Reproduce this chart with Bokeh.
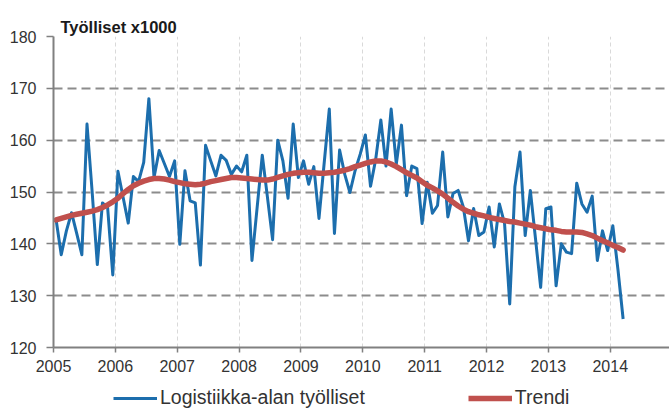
from bokeh.plotting import figure
from bokeh.models import Range1d, FixedTicker, Legend, LegendItem
from bokeh.layouts import column
from bokeh.embed import file_html
from bokeh.resources import INLINE
import pandas as pd

start_month = "2005-01"
employed = [
    144.7, 137.9, 142.5, 146.0, 142.0, 137.9, 163.1, 150.0, 136.0, 147.9, 147.0, 134.0,
    154.0, 149.0, 144.0, 153.0, 152.0, 155.7, 168.0, 152.8, 158.0, 155.5, 153.0, 156.0,
    139.9, 154.1, 148.3, 147.9, 135.9, 159.0, 156.0, 153.1, 157.1, 156.1, 153.4, 155.0,
    153.9, 157.1, 136.8, 147.0, 157.1, 149.0, 140.8, 160.0, 156.0, 148.8, 163.1, 152.8,
    156.0, 151.5, 154.9, 144.9, 155.5, 166.0, 142.0, 158.1, 153.4, 149.9, 154.1, 157.3,
    161.0, 151.1, 156.3, 163.9, 155.0, 166.0, 155.4, 162.9, 149.3, 155.0, 154.5, 143.9,
    151.9, 145.9, 147.4, 157.7, 145.2, 149.7, 150.3, 147.1, 140.6, 146.8, 141.6, 142.3,
    147.1, 139.4, 147.7, 143.9, 128.4, 151.0, 157.7, 141.6, 150.3, 141.0, 131.6, 146.8,
    147.1, 131.9, 140.0, 138.4, 138.1, 151.7, 147.7, 146.1, 149.2, 136.8, 142.5, 138.7,
    143.5, 135.0, 125.5,
]
trend = [
    144.6, 144.9, 145.2, 145.5, 145.7, 145.9, 146.1, 146.3, 146.6, 147.0, 147.5, 148.1,
    148.8, 149.7, 150.5, 151.2, 151.7, 152.1, 152.4, 152.6, 152.6, 152.5, 152.3, 152.0,
    151.8, 151.6, 151.5, 151.4, 151.5, 151.7, 152.0, 152.2, 152.4, 152.6, 152.8, 152.8,
    152.7, 152.6, 152.5, 152.4, 152.3, 152.3, 152.5, 152.8, 153.1, 153.4, 153.6, 153.7,
    153.8, 153.8, 153.7, 153.6, 153.6, 153.7, 153.8, 154.0, 154.2, 154.5, 154.9, 155.2,
    155.5, 155.8, 156.0, 156.0, 155.8, 155.4, 154.9, 154.3, 153.7, 153.2, 152.7, 152.0,
    151.3, 150.8, 150.2, 149.6, 148.8, 148.0, 147.3, 146.7, 146.2, 145.9, 145.6, 145.4,
    145.1, 144.9, 144.7, 144.5, 144.3, 144.2, 144.0, 143.8, 143.6, 143.3, 143.1, 142.9,
    142.7, 142.6, 142.4, 142.3, 142.3, 142.3, 142.2, 141.9, 141.6, 141.1, 140.6, 140.2,
    139.7, 139.3, 138.8,
]
year_ticks = [2005, 2006, 2007, 2008, 2009, 2010, 2011, 2012, 2013, 2014]
value_ticks = [120, 130, 140, 150, 160, 170, 180]
title_text = "Työlliset x1000"
series_names = ["Logistiikka-alan työlliset", "Trendi"]

months = pd.date_range(start_month, periods=len(employed), freq="MS")
x = [d.year + (d.month - 0.5) / 12 for d in months]

FONT = "Liberation Sans"
BLUE = "#1c6ead"
RED = "#c0504d"

p = figure(width=669, height=382, output_backend="svg", toolbar_location=None,
           x_range=Range1d(2005, 2014.958), y_range=Range1d(120, 180),
           min_border_left=53, min_border_right=0, min_border_top=36, min_border_bottom=35)
p.outline_line_color = None
p.background_fill_color = "white"
p.border_fill_color = "white"

p.title.text = title_text
p.title.align = "left"
p.title.offset = 7
p.title.standoff = 1
p.title.text_font = FONT
p.title.text_font_style = "bold"
p.title.text_font_size = "16.5px"
p.title.text_color = "#1a1a1a"

for ax in (p.xaxis, p.yaxis):
    ax.axis_line_color = "#808080"
    ax.axis_line_width = 2
    ax.major_tick_line_color = "#808080"
    ax.major_tick_line_width = 1.5
    ax.major_tick_in = 0
    ax.minor_tick_line_color = None
    ax.major_label_text_font = FONT
    ax.major_label_text_font_size = "16px"
    ax.major_label_text_color = "#333333"

p.xaxis.ticker = FixedTicker(ticks=year_ticks)
p.xaxis.major_tick_out = 5
p.xaxis.major_label_standoff = 7
p.yaxis.ticker = FixedTicker(ticks=value_ticks)
p.yaxis.major_tick_out = 7
p.yaxis.major_label_standoff = 10

p.ygrid.ticker = FixedTicker(ticks=value_ticks)
p.ygrid.grid_line_color = "#8c8c8c"
p.ygrid.grid_line_width = 2
p.ygrid.grid_line_dash = "9 5"
p.xgrid.ticker = FixedTicker(ticks=year_ticks)
p.xgrid.grid_line_color = "#d9d9d9"
p.xgrid.grid_line_width = 1
p.xgrid.grid_line_dash = "4 3"

p.line(x, employed, line_color=BLUE, line_width=3, line_join="round")
p.line(x, trend, line_color=RED, line_width=5.5, line_join="round", line_cap="round")

# legend strip below the chart (its proxy lines lie outside its own view)
q = figure(width=669, height=27, output_backend="svg", toolbar_location=None,
           x_range=Range1d(0, 1), y_range=Range1d(0, 1),
           x_axis_location=None, y_axis_location=None,
           min_border_left=0, min_border_right=0, min_border_top=0, min_border_bottom=0)
q.outline_line_color = None
q.grid.visible = False
q.background_fill_color = "white"
q.border_fill_color = "white"
l1 = q.line(x, employed, line_color=BLUE, line_width=3)
l2 = q.line(x, trend, line_color=RED, line_width=5.5)
legend = Legend(items=[LegendItem(label=series_names[0], renderers=[l1]),
                       LegendItem(label=series_names[1], renderers=[l2])],
                location=(60, 0), orientation="horizontal",
                glyph_width=44, glyph_height=20, label_standoff=3, spacing=103,
                padding=0, margin=0, border_line_color=None, background_fill_alpha=0,
                label_text_font=FONT, label_text_font_size="19.5px", label_text_color="#333333")
q.add_layout(legend)

open("out.html", "w").write(file_html(column(p, q, spacing=0), INLINE))
